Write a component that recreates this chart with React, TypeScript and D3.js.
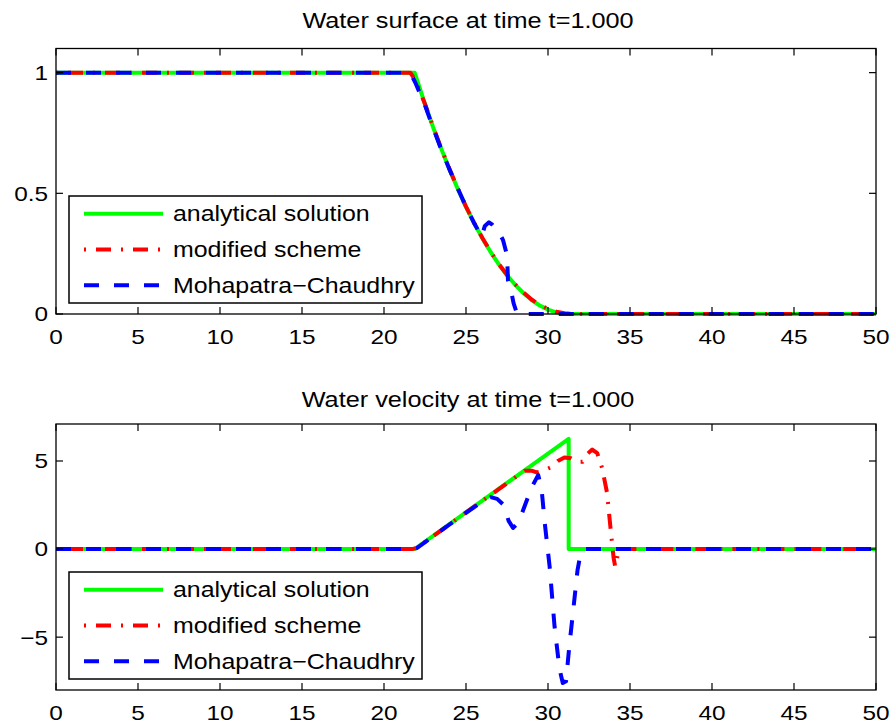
import React from "react";
import * as d3 from "d3";

// ---------- data ----------
const xTicks = [0, 5, 10, 15, 20, 25, 30, 35, 40, 45, 50];
const hTicks = [0, 0.5, 1];
const uTicks = [-5, 0, 5];
const seriesNames = ["analytical solution", "modified scheme", "Mohapatra\u2212Chaudhry"];
const titles = ["Water surface at time t=1.000", "Water velocity at time t=1.000"];

// water surface
const hAnalytical: [number, number][] = [
  [0, 1], [21.87, 1], [22.5, 0.87], [23, 0.773], [23.5, 0.683], [24, 0.598], [24.5, 0.518],
  [25, 0.444], [25.5, 0.376], [26, 0.314], [26.5, 0.257], [27, 0.206], [27.5, 0.16],
  [28, 0.121], [28.5, 0.087], [29, 0.058], [29.5, 0.035], [30, 0.018], [30.5, 0.007],
  [31, 0.001], [31.26, 0], [50, 0],
];
const hModified: [number, number][] = [
  [0, 1], [21.6, 1], [21.9, 0.97], [22.5, 0.87], [23, 0.775], [23.5, 0.684], [24, 0.6],
  [24.5, 0.519], [25, 0.445], [25.5, 0.377], [26, 0.315], [26.5, 0.258], [27, 0.207],
  [27.5, 0.162], [28, 0.123], [28.5, 0.089], [29, 0.06], [29.5, 0.038], [30, 0.021],
  [30.5, 0.01], [31, 0.003], [31.5, 0], [50, 0],
];
const hMohapatra: [number, number][] = [
  [0, 1], [21.6, 1], [21.9, 0.96], [22.5, 0.865], [23, 0.77], [23.5, 0.68], [24, 0.598],
  [24.5, 0.52], [25, 0.445], [25.5, 0.376], [25.95, 0.32], [26.15, 0.365], [26.4, 0.38],
  [26.6, 0.37], [27.0, 0.34], [27.26, 0.306], [27.5, 0.244], [27.56, 0.14], [27.8, 0.079],
  [27.9, 0.045], [28.1, 0.004], [28.3, 0], [50, 0],
];

// water velocity
const uAnalytical: [number, number][] = [
  [0, 0], [21.87, 0], [31.26, 6.26], [31.26, 0], [50, 0],
];
const uModified: [number, number][] = [
  [0, 0], [21.7, 0], [22, 0.07], [23, 0.74], [24, 1.41], [25, 2.08], [26, 2.74], [27, 3.4],
  [28, 4.07], [28.6, 4.45], [29.0, 4.45], [29.3, 4.35], [29.7, 4.45], [30.2, 4.65],
  [30.6, 5.0], [31.0, 5.2], [31.4, 5.15], [31.8, 4.95], [32.1, 4.95], [32.4, 5.4],
  [32.7, 5.65], [33.0, 5.45], [33.3, 4.6], [33.6, 3.2], [33.8, 1.3], [34.0, -0.5],
  [34.1, -1.0], [34.2, -0.6], [34.3, 0], [50, 0],
];
const uMohapatra: [number, number][] = [
  [0, 0], [21.7, 0], [22, 0.06], [23, 0.73], [24, 1.4], [25, 2.06], [26, 2.7], [26.5, 2.95],
  [26.9, 2.85], [27.3, 2.5], [27.6, 1.6], [27.87, 1.2], [28.2, 1.5], [28.6, 2.5],
  [29.0, 3.5], [29.4, 4.2], [29.6, 3.5], [29.8, 1.5], [30.1, -1.0], [30.4, -4.4],
  [30.7, -6.8], [30.9, -7.6], [31.1, -7.5], [31.3, -5.5], [31.5, -3.8], [31.8, -1.2],
  [32.0, -0.2], [32.2, 0], [50, 0],
];

// ---------- style ----------
const colors = ["#00ff00", "#ff0000", "#0000ff"];
const dashes = ["none", "2,10,15,10", "15,15"];
const FONT = "'Liberation Sans', Arial, Helvetica, sans-serif";
const SX = 1.16;

const W = 894;
const H = 726;
const LEFT = 56;
const RIGHT = 876;

type Panel = {
  top: number;
  bottom: number;
  domain: [number, number];
  yTicks: number[];
  series: [number, number][][];
  title: string;
  titleY: number;
  legendTop: number;
  legendBottom: number;
  fmt: (v: number) => string;
};

const panels: Panel[] = [
  {
    top: 48.5, bottom: 314, domain: [0, 1.1], yTicks: hTicks,
    series: [hAnalytical, hModified, hMohapatra], title: titles[0], titleY: 21,
    legendTop: 196, legendBottom: 303, fmt: (v) => d3.format("")(v),
  },
  {
    top: 424, bottom: 690, domain: [-8, 7.1], yTicks: uTicks,
    series: [uAnalytical, uModified, uMohapatra], title: titles[1], titleY: 400,
    legendTop: 572, legendBottom: 679, fmt: (v) => (v < 0 ? "\u2212" + Math.abs(v) : String(v)),
  },
];

function T({ x, y, anchor, size, children }: any) {
  return (
    <text
      transform={`translate(${x},${y}) scale(${SX},1)`}
      textAnchor={anchor}
      dominantBaseline="central"
      fontFamily={FONT}
      fontSize={size}
      fill="#000"
    >
      {children}
    </text>
  );
}

function PanelView({ p }: { p: Panel }) {
  const x = d3.scaleLinear().domain([0, 50]).range([LEFT, RIGHT]);
  const y = d3.scaleLinear().domain(p.domain).range([p.bottom, p.top]);
  const line = d3
    .line<[number, number]>()
    .x((d) => x(d[0]))
    .y((d) => y(d[1]));
  const tick = 7;
  const rowH = (p.legendBottom - p.legendTop) / 3;
  return (
    <g>
      <T x={(LEFT + RIGHT) / 2 + 2} y={p.titleY} anchor="middle" size={21.8}>
        {p.title}
      </T>
      {p.series.map((s, i) => (
        <path
          key={i}
          d={line(s) || ""}
          fill="none"
          stroke={colors[i]}
          strokeWidth={4}
          strokeDasharray={dashes[i]}
          strokeLinejoin="round"
        />
      ))}
      <rect x={LEFT} y={p.top} width={RIGHT - LEFT} height={p.bottom - p.top} fill="none" stroke="#000" strokeWidth={1.3} />
      {xTicks.map((t) => (
        <g key={"x" + t}>
          <line x1={x(t)} x2={x(t)} y1={p.bottom} y2={p.bottom - tick} stroke="#000" strokeWidth={1.2} />
          <line x1={x(t)} x2={x(t)} y1={p.top} y2={p.top + tick} stroke="#000" strokeWidth={1.2} />
          <T x={x(t)} y={p.bottom + 23} anchor="middle" size={21}>
            {String(t)}
          </T>
        </g>
      ))}
      {p.yTicks.map((t) => (
        <g key={"y" + t}>
          <line x1={LEFT} x2={LEFT + tick} y1={y(t)} y2={y(t)} stroke="#000" strokeWidth={1.2} />
          <line x1={RIGHT} x2={RIGHT - tick} y1={y(t)} y2={y(t)} stroke="#000" strokeWidth={1.2} />
          <T x={LEFT - 8} y={y(t)} anchor="end" size={21}>
            {p.fmt(t)}
          </T>
        </g>
      ))}
      <rect x={69} y={p.legendTop} width={353} height={p.legendBottom - p.legendTop} fill="#fff" stroke="#000" strokeWidth={1.5} />
      {seriesNames.map((n, i) => {
        const cy = p.legendTop + rowH * (i + 0.5);
        return (
          <g key={n}>
            <line x1={84} x2={163} y1={cy} y2={cy} stroke={colors[i]} strokeWidth={4} strokeDasharray={dashes[i]} />
            <T x={173} y={cy} anchor="start" size={21.5}>
              {n}
            </T>
          </g>
        );
      })}
    </g>
  );
}

export default function App() {
  return (
    <svg width={W} height={H} style={{ display: "block", position: "absolute", left: 0, top: 0, background: "#fff" }}>
      <rect width={W} height={H} fill="#fff" />
      {panels.map((p, i) => (
        <PanelView key={i} p={p} />
      ))}
    </svg>
  );
}
